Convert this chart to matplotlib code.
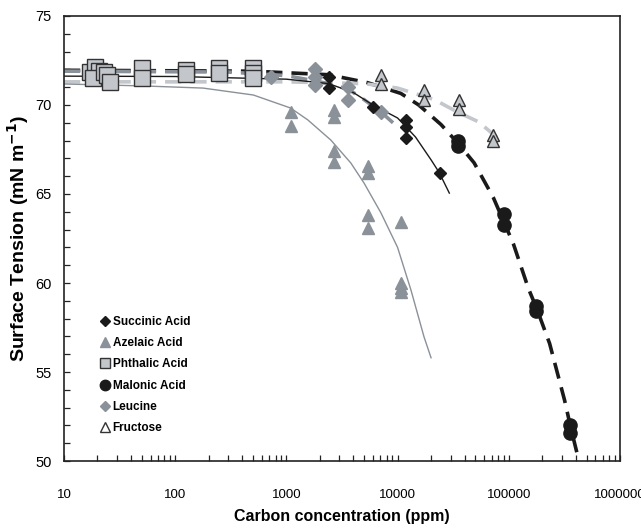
import matplotlib
matplotlib.use("Agg")
import matplotlib.pyplot as plt
from matplotlib.lines import Line2D
from matplotlib.ticker import LogLocator, MultipleLocator, FixedLocator, NullFormatter

plt.rcParams['font.family'] = ['Liberation Sans', 'DejaVu Sans']

# ---- measured points ----
succ_x = [2400, 2400, 6000, 12000, 12000, 12000, 24000]
succ_y = [71.55, 70.95, 69.9, 69.15, 68.75, 68.15, 66.2]

azel_x = [1100, 1100, 2700, 2700, 2700, 2700, 5400, 5400, 5400, 5400, 10800, 10800, 10800, 10800]
azel_y = [69.6, 68.8, 69.7, 69.3, 67.4, 66.8, 66.6, 66.2, 63.8, 63.1, 63.4, 60.0, 59.7, 59.5]

phth_x = [17.2, 19.0, 20.7, 18.3, 23.0, 24.4, 26.0, 50, 50, 125, 125, 250, 250, 500, 500, 500]
phth_y = [71.87, 72.15, 71.93, 71.5, 71.87, 71.69, 71.31, 72.06, 71.5, 71.97, 71.74, 72.06, 71.78, 72.06, 71.8, 71.5]

malo_x = [35000, 35000, 90000, 90000, 177000, 177000, 352000, 352000]
malo_y = [68.0, 67.7, 63.9, 63.25, 58.7, 58.4, 52.0, 51.6]

leuc_x = [720, 1800, 1800, 1800, 3600, 3600, 7100]
leuc_y = [71.6, 72.0, 71.6, 71.1, 71.0, 70.3, 69.6]

fruc_x = [7100, 7100, 17400, 17400, 36000, 36000, 71500, 71500]
fruc_y = [71.7, 71.2, 70.85, 70.3, 70.3, 69.8, 68.3, 68.0]

# ---- fitted curves ----
succ_fx = [10, 100, 1000, 2400, 4000, 6000, 10000, 12200, 14500, 20100, 23700, 29200]
succ_fy = [71.62, 71.6, 71.45, 71.2, 70.7, 70.0, 69.27, 68.7, 68.2, 66.9, 66.2, 65.05]

azel_fx = [10, 52, 178, 505, 1090, 1560, 2510, 3800, 5010, 7100, 10000, 13200, 17300, 20000]
azel_fy = [71.18, 71.07, 70.95, 70.56, 69.83, 69.16, 68.03, 66.74, 65.6, 63.93, 62.0, 59.6, 56.97, 55.8]

malo_fx = [10, 500, 2400, 5400, 10700, 15500, 24600, 35500, 48800, 72600, 89400, 110000,
           150000, 180000, 233000, 318000, 360000, 420000]
malo_fy = [71.95, 71.9, 71.7, 71.25, 70.65, 70.0, 68.9, 67.8, 66.75, 64.8, 63.5, 62.2,
           59.7, 58.5, 56.6, 53.4, 51.9, 50.2]

leuc_fx = [10, 300, 1000, 2000, 3580, 5000, 7100, 9100]
leuc_fy = [71.9, 71.85, 71.65, 71.3, 70.9, 70.3, 69.6, 69.0]

fruc_fx = [10, 1000, 5000, 10000, 21400, 34700, 53600, 82600]
fruc_fy = [71.3, 71.3, 71.2, 70.95, 70.3, 69.6, 69.05, 68.05]

dark = '#1a1a1a'
mid = '#8a9199'
light = '#c3c7cc'

fig = plt.figure(figsize=(6.41, 5.29), dpi=100)
ax = fig.add_axes([0.0998, 0.1285, 0.8674, 0.8413])

# fit lines
ax.plot(malo_fx, malo_fy, color=dark, lw=2.6, ls=(0, (4.5, 2.5)), zorder=2)
ax.plot(fruc_fx, fruc_fy, color=light, lw=2.6, ls=(0, (4.5, 2.5)), zorder=2)
ax.plot(leuc_fx, leuc_fy, color=mid, lw=2.6, ls=(0, (4.5, 2.5)), zorder=2)
ax.plot(succ_fx, succ_fy, color=dark, lw=1.0, zorder=2)
ax.plot(azel_fx, azel_fy, color=mid, lw=1.0, zorder=2)

# points
ax.plot(phth_x, phth_y, ls='none', marker='s', ms=11.5, mfc=light, mec='#333333', mew=1.0, zorder=3)
ax.plot(leuc_x, leuc_y, ls='none', marker='D', ms=7, mfc=mid, mec=mid, zorder=3)
ax.plot(azel_x, azel_y, ls='none', marker='^', ms=9, mfc=mid, mec=mid, zorder=3)
ax.plot(succ_x, succ_y, ls='none', marker='D', ms=6.5, mfc=dark, mec=dark, zorder=4)
ax.plot(malo_x, malo_y, ls='none', marker='o', ms=9.5, mfc=dark, mec=dark, zorder=4)
ax.plot(fruc_x, fruc_y, ls='none', marker='^', ms=9, mfc=light, mec='#333333', mew=1.0, zorder=4)

ax.set_xscale('log')
ax.set_xlim(10, 1000000)
ax.set_ylim(50, 75)

ax.xaxis.set_major_locator(FixedLocator([10, 100, 1000, 10000, 100000, 1000000]))
ax.xaxis.set_minor_locator(LogLocator(base=10, subs=range(2, 10)))
ax.xaxis.set_minor_formatter(NullFormatter())
ax.set_xticklabels(['10', '100', '1000', '10000', '100000', '1000000'])
ax.yaxis.set_major_locator(MultipleLocator(5))
ax.yaxis.set_minor_locator(MultipleLocator(1))

ax.tick_params(axis='both', which='both', direction='in', length=4, width=0.9, color='#222222')
ax.tick_params(axis='x', which='major', pad=20, labelsize=9.5)
ax.tick_params(axis='y', which='major', pad=9, labelsize=10.5)
for s in ax.spines.values():
    s.set_linewidth(1.2)
    s.set_color('#222222')

ax.set_xlabel('Carbon concentration (ppm)', fontsize=11.5, fontweight='bold', labelpad=6)
ax.set_ylabel('Surface Tension (mN m$^{\\mathbf{-1}}$)', fontsize=14, fontweight='bold', labelpad=3)

handles = [
    Line2D([], [], ls='none', marker='D', ms=5.5, mfc=dark, mec=dark),
    Line2D([], [], ls='none', marker='^', ms=7.5, mfc=mid, mec=mid),
    Line2D([], [], ls='none', marker='s', ms=7, mfc=light, mec='#333333'),
    Line2D([], [], ls='none', marker='o', ms=7.5, mfc=dark, mec=dark),
    Line2D([], [], ls='none', marker='D', ms=5.5, mfc=mid, mec=mid),
    Line2D([], [], ls='none', marker='^', ms=7.5, mfc='white', mec='#333333'),
]
labels = ['Succinic Acid', 'Azelaic Acid', 'Phthalic Acid', 'Malonic Acid', 'Leucine', 'Fructose']
ax.legend(handles, labels, loc='lower left', bbox_to_anchor=(0.058, 0.05), frameon=False,
          prop={'weight': 'bold', 'size': 8.5}, handlelength=0.7, handletextpad=0.3,
          labelspacing=0.78, borderaxespad=0)

fig.savefig('out.png', dpi=100)
